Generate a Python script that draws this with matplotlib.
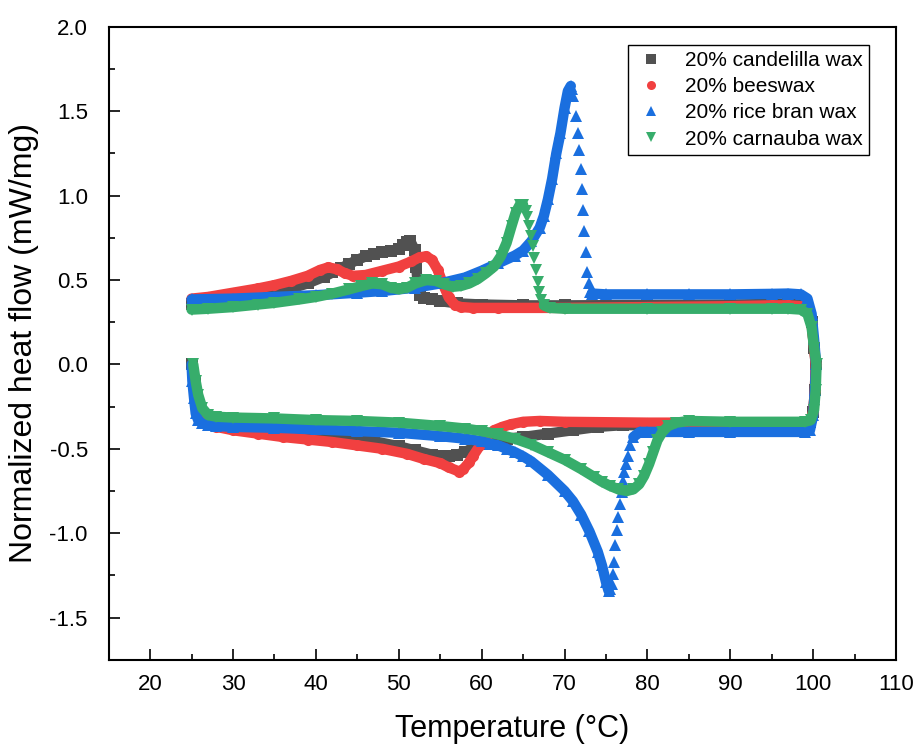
import matplotlib
matplotlib.use("Agg")
import matplotlib.pyplot as plt
from matplotlib.lines import Line2D
from matplotlib.ticker import AutoMinorLocator

plt.rcParams['font.family'] = ['Liberation Sans', 'DejaVu Sans']

# ---------------- data ----------------
labels = ["20% candelilla wax", "20% beeswax", "20% rice bran wax", "20% carnauba wax"]
colors = ["#515151", "#F14040", "#1A6FDF", "#37AD6B"]
markers = ["s", "o", "^", "v"]

# candelilla wax
cand_heat_T = [25, 27, 30, 33, 35, 37, 39, 41, 42, 43, 44, 45, 46, 47, 48, 49, 50, 50.5, 51, 51.4,
               51.9, 52.1, 52.3, 52.6, 53, 54, 55, 57, 60, 65, 70, 80, 90, 95, 97, 98.5, 99.3, 99.8,
               100.1, 100.3, 100.2, 100.0, 99.6, 99]
cand_heat_v = [0.36, 0.37, 0.385, 0.405, 0.425, 0.45, 0.48, 0.52, 0.545, 0.57, 0.595, 0.62, 0.64, 0.655,
               0.665, 0.67, 0.685, 0.705, 0.725, 0.73, 0.68, 0.58, 0.47, 0.41, 0.395, 0.385, 0.375,
               0.362, 0.355, 0.35, 0.35, 0.352, 0.355, 0.358, 0.36, 0.355, 0.33, 0.25, 0.1, 0.0,
               -0.15, -0.28, -0.34, -0.355]
cand_cool_T = [99, 90, 80, 77, 74, 71, 68, 65, 63, 61, 60, 59, 58, 57, 56, 55, 54, 52, 50, 47, 44, 40,
               36, 33, 30, 28, 27, 26.3, 25.8, 25.4, 25.1]
cand_cool_v = [-0.355, -0.36, -0.36, -0.36, -0.37, -0.39, -0.41, -0.43, -0.44, -0.455, -0.47, -0.49,
               -0.52, -0.535, -0.545, -0.545, -0.535, -0.51, -0.485, -0.455, -0.435, -0.415, -0.39,
               -0.375, -0.36, -0.35, -0.335, -0.30, -0.22, -0.10, 0.0]

# beeswax
bees_heat_T = [25, 27, 30, 33, 35, 37, 39, 40.5, 41.5, 42.5, 43.5, 44.5, 46, 48, 50, 51.5, 52.5, 53.3,
               54, 54.7, 55.3, 56, 56.8, 57.5, 59, 62, 70, 80, 90, 95, 97, 98.5, 99.3, 99.8, 100.1,
               100.3, 100.2, 100.0, 99.6, 99]
bees_heat_v = [0.39, 0.40, 0.425, 0.45, 0.47, 0.495, 0.525, 0.56, 0.575, 0.565, 0.54, 0.525, 0.53,
               0.555, 0.58, 0.61, 0.635, 0.64, 0.62, 0.56, 0.48, 0.40, 0.35, 0.34, 0.335, 0.335,
               0.335, 0.34, 0.345, 0.35, 0.35, 0.345, 0.32, 0.24, 0.1, 0.0, -0.15, -0.28, -0.335,
               -0.345]
bees_cool_T = [99, 90, 80, 70, 67, 65, 63.5, 62.5, 61.5, 60.5, 59.8, 59, 58.5, 57.8, 57.3, 56, 55, 53,
               51, 48, 45, 42, 39, 36, 33, 30, 28, 27, 26.3, 25.8, 25.4, 25.1]
bees_cool_v = [-0.345, -0.345, -0.345, -0.34, -0.335, -0.34, -0.355, -0.37, -0.39, -0.43, -0.48,
               -0.54, -0.58, -0.62, -0.635, -0.61, -0.585, -0.56, -0.53, -0.50, -0.48, -0.46,
               -0.445, -0.43, -0.41, -0.39, -0.37, -0.35, -0.31, -0.24, -0.12, 0.0]

# rice bran wax
rice_heat_T = [25, 30, 35, 40, 45, 48, 52, 55, 58, 60, 62, 64, 65, 66, 67, 67.5, 68, 68.5, 69, 69.5,
               70, 70.4, 70.75]
rice_heat_v = [0.385, 0.39, 0.40, 0.41, 0.425, 0.435, 0.455, 0.48, 0.515, 0.555, 0.60, 0.645, 0.675,
               0.73, 0.81, 0.88, 0.98, 1.10, 1.25, 1.37, 1.52, 1.62, 1.65]
rice_drop_T = [70.9, 71.06, 71.4, 71.67, 71.8, 71.95, 72.08, 72.28, 72.36, 72.56, 72.7, 72.9, 73.1]
rice_drop_v = [1.63, 1.59, 1.47, 1.37, 1.27, 1.16, 1.04, 0.915, 0.79, 0.665, 0.55, 0.48, 0.43]
rice_hold_T = [73.3, 75, 80, 85, 90, 95, 97, 98.5, 99.3, 99.8, 100.1, 100.35, 100.2, 100.0, 99.6, 99,
               90, 85, 80, 79.1, 78.3]
rice_hold_v = [0.42, 0.415, 0.415, 0.415, 0.415, 0.418, 0.42, 0.415, 0.39, 0.30, 0.15, 0.0, -0.15,
               -0.30, -0.39, -0.40, -0.40, -0.40, -0.40, -0.40, -0.43]
rice_spike_T = [77.9, 77.6, 77.4, 77.2, 77.0, 76.9, 76.7, 76.5, 76.3, 76.1, 76.0, 75.9, 75.7, 75.5]
rice_spike_v = [-0.48, -0.54, -0.59, -0.64, -0.69, -0.757, -0.826, -0.905, -0.98, -1.07, -1.17,
                -1.24, -1.30, -1.33]
rice_cool_T = [75.3, 75, 74.5, 74, 73, 72, 71, 70, 68, 66, 65, 64, 63, 62, 61, 60, 58, 55, 50, 45, 40,
               35, 30, 28, 27, 26.3, 25.8, 25.5, 25.3, 25.1, 25.0]
rice_cool_v = [-1.34, -1.29, -1.19, -1.11, -0.99, -0.89, -0.81, -0.75, -0.655, -0.575, -0.545,
               -0.52, -0.50, -0.48, -0.47, -0.455, -0.44, -0.425, -0.405, -0.395, -0.385, -0.375,
               -0.37, -0.365, -0.36, -0.35, -0.33, -0.29, -0.20, -0.10, 0.0]

# carnauba wax
carn_heat_T = [25, 27, 30, 33, 35, 38, 40, 42, 44, 45.5, 46.8, 48, 49, 50, 51, 52, 53.3, 54.5, 55.5,
               56.5, 57.5, 58.5, 59.5, 60.5, 61.5, 62.3, 63, 63.6, 64.1, 64.6, 65.0]
carn_heat_v = [0.325, 0.33, 0.34, 0.355, 0.365, 0.385, 0.40, 0.42, 0.445, 0.465, 0.48, 0.475, 0.455,
               0.445, 0.455, 0.48, 0.50, 0.495, 0.475, 0.46, 0.465, 0.48, 0.505, 0.54, 0.58, 0.64,
               0.72, 0.82, 0.90, 0.945, 0.945]
carn_drop_T = [65.3, 65.5, 65.7, 66.0, 66.2, 66.35, 66.6, 66.8, 66.9, 67.2]
carn_drop_v = [0.91, 0.875, 0.82, 0.76, 0.70, 0.63, 0.56, 0.49, 0.43, 0.38]
carn_cool_T = [67.5, 68.2, 70, 80, 90, 95, 97, 98.5, 99.3, 99.8, 100.1, 100.4, 100.3, 100.1, 99.7, 99,
               90, 85, 83.5, 82.5, 81.8, 81.2, 80.7, 80.2, 79.6, 79, 78.3, 77.5, 76.5, 75.5, 74.5,
               73.5, 72, 70, 68, 66, 64, 62, 60, 58, 55, 50, 45, 40, 35, 30, 28, 27, 26.3, 25.8,
               25.5, 25.2]
carn_cool_v = [0.35, 0.335, 0.33, 0.33, 0.33, 0.33, 0.33, 0.325, 0.30, 0.22, 0.10, 0.0, -0.15, -0.27,
               -0.33, -0.34, -0.34, -0.335, -0.345, -0.365, -0.40, -0.45, -0.52, -0.59, -0.66,
               -0.71, -0.74, -0.75, -0.74, -0.72, -0.695, -0.665, -0.62, -0.565, -0.52, -0.475,
               -0.44, -0.415, -0.395, -0.38, -0.365, -0.345, -0.335, -0.33, -0.32, -0.315, -0.31,
               -0.30, -0.26, -0.18, -0.10, 0.0]

# (T, v, densely sampled?) segments per series
series = [
    [(cand_heat_T, cand_heat_v, True), (cand_cool_T, cand_cool_v, True)],
    [(bees_heat_T, bees_heat_v, True), (bees_cool_T, bees_cool_v, True)],
    [(rice_heat_T, rice_heat_v, True), (rice_drop_T, rice_drop_v, False),
     (rice_hold_T, rice_hold_v, True), (rice_spike_T, rice_spike_v, False),
     (rice_cool_T, rice_cool_v, True)],
    [(carn_heat_T, carn_heat_v, True), (carn_drop_T, carn_drop_v, False),
     (carn_cool_T, carn_cool_v, True)],
]

x_ticks = [20, 30, 40, 50, 60, 70, 80, 90, 100, 110]
y_ticks = [-1.5, -1.0, -0.5, 0.0, 0.5, 1.0, 1.5, 2.0]

# ---------------- figure ----------------
fig = plt.figure(figsize=(9.21, 7.48), dpi=100)
ax = fig.add_axes([0.118, 0.118, 0.855, 0.846])

for segs, c, m in zip(series, colors, markers):
    for T, v, dense in segs:
        if dense:
            ax.plot(T, v, '-', color=c, lw=7.5, solid_capstyle='round',
                    solid_joinstyle='round', zorder=2)
        ax.plot(T, v, linestyle='none', marker=m, color=c, markersize=8,
                markeredgewidth=0, zorder=2)

ax.set_xlim(15, 110)
ax.set_ylim(-1.75, 2.0)
ax.set_xticks(x_ticks)
ax.set_yticks(y_ticks)
ax.set_yticklabels([f"{t:.1f}" for t in y_ticks])
ax.xaxis.set_minor_locator(AutoMinorLocator(2))
ax.yaxis.set_minor_locator(AutoMinorLocator(2))
ax.tick_params(which='both', direction='in', top=False, right=False, width=1.2)
ax.tick_params(which='major', length=8, labelsize=16)
ax.tick_params(axis='x', which='major', pad=10)
ax.tick_params(axis='y', which='major', pad=15)
ax.tick_params(which='minor', length=4.5)
for s in ax.spines.values():
    s.set_linewidth(1.5)

ax.set_xlabel("Temperature (°C)", fontsize=22, labelpad=14)
ax.xaxis.set_label_coords(0.512, -0.085)
ax.set_ylabel("Normalized heat flow (mW/mg)", fontsize=23)
ax.yaxis.set_label_coords(-0.088, 0.5)

handles = [Line2D([], [], linestyle='none', marker=m, color=c, markersize=6.5, markeredgewidth=0)
           for m, c in zip(markers, colors)]
leg = ax.legend(handles, labels, loc='upper right', bbox_to_anchor=(0.965, 0.972),
                borderaxespad=0, fontsize=15, frameon=True, fancybox=False, framealpha=1,
                edgecolor='black', labelspacing=0.35, handlelength=1.6, handletextpad=0.8,
                borderpad=0.3)
leg.get_frame().set_linewidth(1.0)

fig.savefig("out.png", dpi=100)
